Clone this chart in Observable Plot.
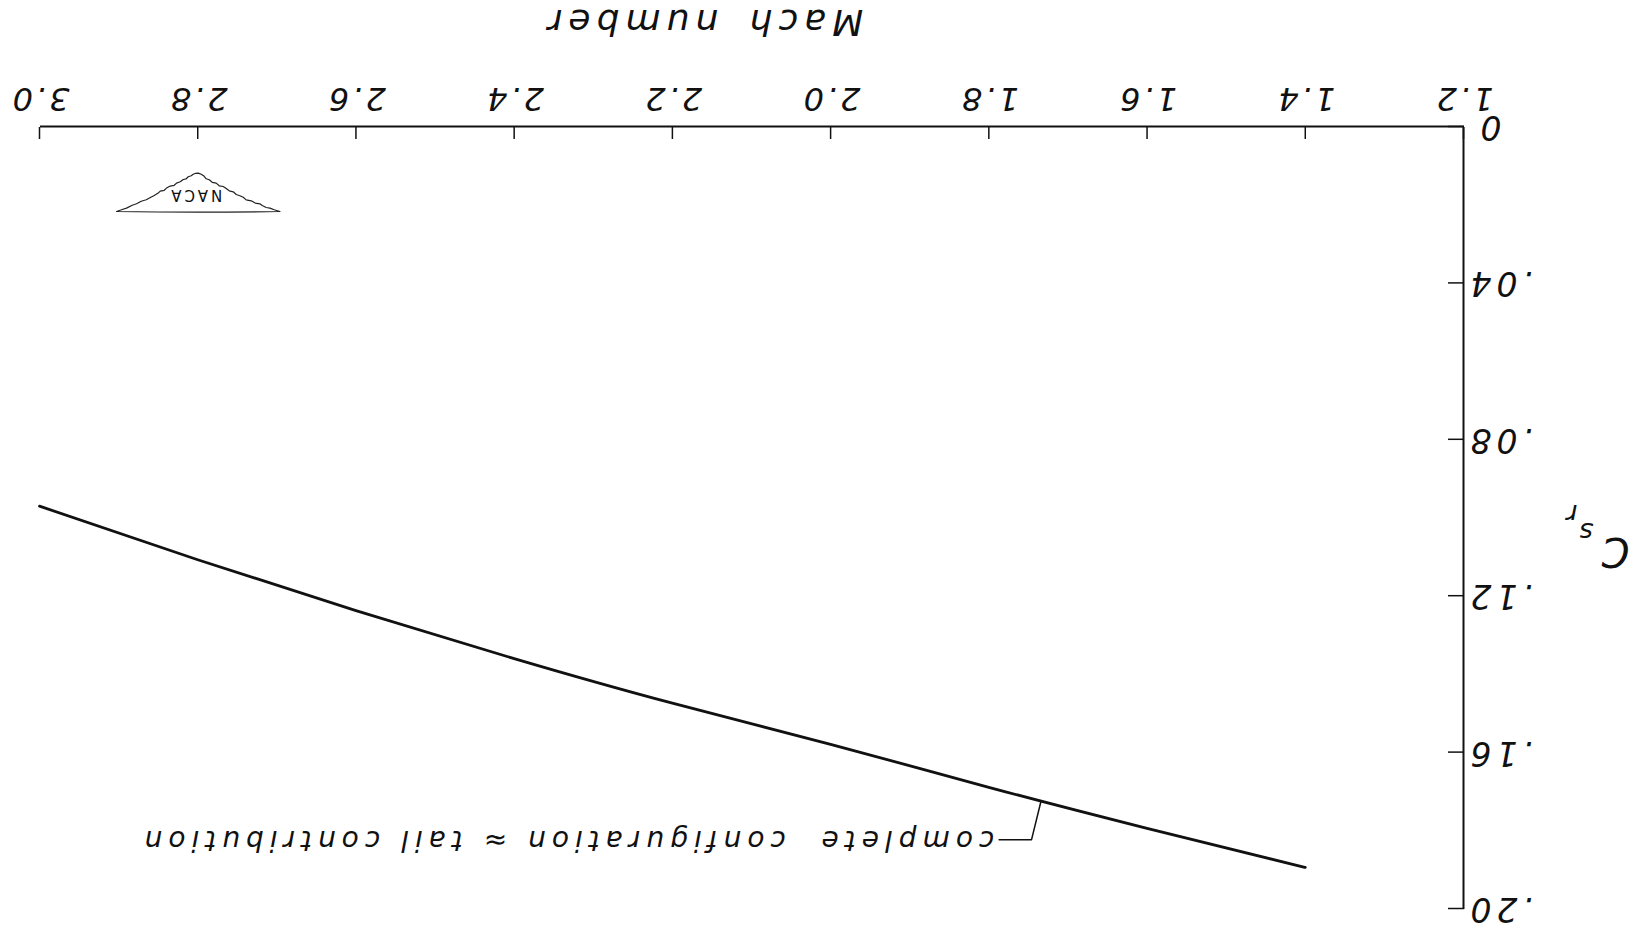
<!DOCTYPE html>
<html>
<head>
<meta charset="utf-8">
<script src="https://cdn.jsdelivr.net/npm/d3@7"></script>
<script src="https://cdn.jsdelivr.net/npm/@observablehq/plot@0.6"></script>
<style>
  html, body { margin: 0; padding: 0; background: #fff; overflow: hidden; }
  #chart svg { display: block; transform: rotate(180deg); }
  #chart text { font-family: "DejaVu Sans", sans-serif; font-style: italic; fill: #111; }
</style>
</head>
<body>
<div id="chart"></div>
<script>
// Axis ticks and their printed labels
const machTicks = [1.2, 1.4, 1.6, 1.8, 2.0, 2.2, 2.4, 2.6, 2.8, 3.0];
const machTickLabels = ["1.2", "1.4", "1.6", "1.8", "2.0", "2.2", "2.4", "2.6", "2.8", "3.0"];
const coefTicks = [0, 0.04, 0.08, 0.12, 0.16, 0.20];
const coefTickLabels = ["0", ".04", ".08", ".12", ".16", ".20"];

// Complete configuration (≈ tail contribution) versus Mach number
const mach = [1.4, 1.6, 1.8, 2.0, 2.2, 2.4, 2.6, 2.8, 3.0];
const coef = [0.1895, 0.1795, 0.169, 0.158, 0.1475, 0.1361, 0.1238, 0.1108, 0.0971];

// Axis titles
const xTitle = "Mach number";
const yTitleParts = ["C", "s", "r"];

// Curve annotation and its leader
const noteText = "complete  configuration ≈ tail contribution";
const noteTextMach = 1.793;
const noteMach = [1.787, 1.746, 1.734];
const noteCoef = [0.1824, 0.1824, 0.1725];

// Emblem anchor
const logoMach = 2.80;
const logoCoef = 0.0167;
const logoText = "NACA";

const W = 1634, H = 941;
const mL = 170, mR = 40, mT = 32, mB = 127;
const frameW = W - mL - mR, frameH = H - mT - mB;

const series = mach.map((m, i) => ({m, c: coef[i]}));
const leader = noteMach.map((m, i) => ({m, c: noteCoef[i]}));
const fmt = (ticks, labels) => d => labels[ticks.indexOf(d)];

// NACA emblem: a ragged ridge outline with the lettering across it
function emblem(index, scales) {
  const pts = [
    [-81.7,-19.2],[-76,-17.5],[-71.7,-15.8],[-68,-15.2],[-64,-13.2],[-61.7,-11.5],[-57,-10.8],[-53,-8.5],
    [-48,-7.6],[-45,-5],[-41.7,-3.5],[-38,-2.2],[-35,0.5],[-31,1.5],[-28,3.8],[-25,5.8],[-21,6.5],[-18,9.2],
    [-14,10],[-11,12.5],[-8,13.5],[-6,16],[-3,18],[0,19.2],[2.5,19],[5,18],[7,16.5],[10,15.5],[12,13.5],
    [15,12.8],[18,10.5],[21.7,9.2],[24,7],[28,6.2],[31.7,4.2],[34,2],[38,1.2],[40,-0.8],[44,-3.2],[48.3,-5.5],
    [52,-7.5],[57,-9],[61.7,-11.5],[66,-13],[71.7,-15.8],[76,-17.2],[81.7,-19.2]
  ];
  const g = d3.create("svg:g")
    .attr("aria-label", "logo")
    .attr("transform", `translate(${scales.x(logoMach)},${scales.y(logoCoef)})`);
  g.append("path")
    .attr("d", "M" + pts.map(p => p.join(",")).join("L") + "Q0,-20.5 -81.7,-19.2Z")
    .attr("fill", "none")
    .attr("stroke", "#222")
    .attr("stroke-width", 1.2)
    .attr("stroke-linejoin", "round");
  g.append("text")
    .attr("x", 3)
    .attr("y", -3)
    .attr("dy", "0.36em")
    .attr("text-anchor", "middle")
    .attr("font-size", 15)
    .style("font-style", "normal")
    .style("letter-spacing", "3px")
    .text(logoText);
  return g.node();
}

const chart = Plot.plot({
  width: W,
  height: H,
  marginLeft: mL,
  marginRight: mR,
  marginTop: mT,
  marginBottom: mB,
  style: {background: "white", color: "#111", overflow: "visible"},
  x: {domain: [1.2, 3.0]},
  y: {domain: [0, 0.2]},
  marks: [
    // frame: bottom and left axis lines
    Plot.ruleY([0], {stroke: "#111", strokeWidth: 2}),
    Plot.ruleX([1.2], {stroke: "#111", strokeWidth: 2}),
    // inward tick marks
    Plot.tickX(machTicks, {x: d => d, insetTop: frameH - 12, stroke: "#111", strokeWidth: 1.5}),
    Plot.tickY(coefTicks, {y: d => d, insetRight: frameW - 16, stroke: "#111", strokeWidth: 1.5}),
    // tick labels
    Plot.axisX({ticks: machTicks, tickSize: 0, tickPadding: 16, tickFormat: fmt(machTicks, machTickLabels), fontSize: 32, label: null}),
    Plot.axisY({ticks: coefTicks, tickSize: 0, tickPadding: 2, tickFormat: fmt(coefTicks, coefTickLabels), fontSize: 33, label: null}),
    // axis titles
    Plot.text([xTitle], {text: d => d, frameAnchor: "bottom", dx: 49, dy: 117, fontSize: 36}),
    Plot.text([yTitleParts[0]], {text: d => d, frameAnchor: "left", textAnchor: "start", dx: -166, dy: -33, fontSize: 40}),
    Plot.text([yTitleParts[1]], {text: d => d, frameAnchor: "left", textAnchor: "start", dx: -130, dy: -14, fontSize: 27}),
    Plot.text([yTitleParts[2]], {text: d => d, frameAnchor: "left", textAnchor: "start", dx: -114, dy: 4, fontSize: 27}),
    // the curve
    Plot.line(series, {x: "m", y: "c", curve: "natural", stroke: "#111", strokeWidth: 2.8}),
    // annotation with leader
    Plot.line(leader, {x: "m", y: "c", stroke: "#111", strokeWidth: 1.5}),
    Plot.text([noteText], {text: d => d, x: noteTextMach, y: noteCoef[0], textAnchor: "start", fontSize: 28}),
    emblem
  ]
});

// Hand-lettered spacing for the individual texts
const root = d3.select(chart);
const byText = s => root.selectAll("text").filter(function () { return this.textContent === s; });
machTickLabels.forEach(s => byText(s).style("letter-spacing", "3px"));
coefTickLabels.forEach(s => byText(s).style("letter-spacing", "5px"));
byText("0").attr("dx", -10);
byText(xTitle).style("letter-spacing", "6px").style("word-spacing", "8px");
byText(noteText).style("letter-spacing", "6px").style("white-space", "pre");

document.getElementById("chart").appendChild(chart);
</script>
</body>
</html>
